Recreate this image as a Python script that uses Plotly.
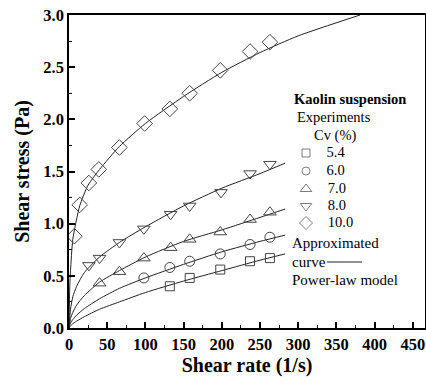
import plotly.graph_objects as go

cv_labels = ["5.4", "6.0", "7.0", "8.0", "10.0"]

x_54 = [132, 158, 198, 237, 263]
y_54 = [0.40, 0.48, 0.56, 0.64, 0.67]

x_60 = [98, 132, 158, 198, 237, 263]
y_60 = [0.48, 0.58, 0.64, 0.71, 0.80, 0.87]

x_70 = [40, 66, 98, 133, 158, 198, 237, 263]
y_70 = [0.43, 0.54, 0.67, 0.77, 0.85, 0.92, 1.04, 1.11]

x_80 = [26, 40, 66, 98, 133, 158, 199, 237, 263]
y_80 = [0.60, 0.67, 0.82, 0.95, 1.09, 1.17, 1.30, 1.48, 1.57]

x_100 = [7, 14, 26, 39, 66, 99, 132, 158, 198, 237, 263]
y_100 = [0.88, 1.18, 1.39, 1.52, 1.73, 1.96, 2.10, 2.25, 2.47, 2.65, 2.74]

# ---- power-law model curves ----
cx = [0, 2, 5, 10, 20, 40, 66, 100, 150, 200, 250, 283]
c_54 = [0, 0.021, 0.041, 0.066, 0.108, 0.18, 0.25, 0.34, 0.45, 0.55, 0.65, 0.71]
c_60 = [0, 0.047, 0.082, 0.123, 0.186, 0.28, 0.38, 0.48, 0.61, 0.73, 0.83, 0.89]
c_70 = [0, 0.09, 0.15, 0.22, 0.31, 0.44, 0.55, 0.68, 0.83, 0.94, 1.06, 1.14]
c_80 = [0, 0.18, 0.30, 0.40, 0.53, 0.68, 0.82, 0.97, 1.17, 1.34, 1.48, 1.58]
cx_100 = [0, 1, 2, 5, 14, 25, 40, 66, 100, 150, 200, 250, 300, 381]
c_100 = [0, 0.40, 0.55, 0.85, 1.17, 1.37, 1.52, 1.74, 1.96, 2.22, 2.45, 2.64, 2.80, 3.0]

x_ticks = [0, 50, 100, 150, 200, 250, 300, 350, 400, 450]
y_ticks = [0.0, 0.5, 1.0, 1.5, 2.0, 2.5, 3.0]

FONT = "Liberation Serif"
AXFONT = "serif"
INK = "#222222"
MK = "#444444"

symbols = ["square-open", "circle-open", "triangle-up-open", "triangle-down-open", "diamond-open"]
sizes = [9, 10, 11, 11, 12]

fig = go.Figure()

for xs, ys in [(cx, c_54), (cx, c_60), (cx, c_70), (cx, c_80), (cx_100, c_100)]:
    fig.add_trace(go.Scatter(x=xs, y=ys, mode="lines",
                             line=dict(color=INK, width=1, shape="spline", smoothing=0.6),
                             showlegend=False, hoverinfo="skip"))

for (xs, ys), sym, sz, lab in zip([(x_54, y_54), (x_60, y_60), (x_70, y_70), (x_80, y_80), (x_100, y_100)],
                                  symbols, sizes, cv_labels):
    fig.add_trace(go.Scatter(x=xs, y=ys, mode="markers", name=lab, showlegend=False,
                             marker=dict(symbol=sym, size=sz, color=MK, line=dict(width=1, color=MK))))

# ---- legend key (drawn on a hidden pixel-like overlay axis) ----
key_x = 306
key_y = [153, 171, 189, 206, 223]
fig.add_trace(go.Scatter(x=[key_x] * len(key_y), y=key_y, mode="markers+text", xaxis="x2", yaxis="y2",
                         text=["    " + l for l in cv_labels], textposition="middle right",
                         textfont=dict(family=FONT, size=14.5, color="black"),
                         marker=dict(symbol=symbols, size=[8, 8, 10, 10, 10], color=MK, line=dict(width=1, color=MK)),
                         showlegend=False, hoverinfo="skip", cliponaxis=False))

axis_common = dict(showline=True, linecolor="black", linewidth=1.5, mirror=True, ticks="inside",
                   tickcolor="black", tickwidth=1.5, ticklen=6, showgrid=False, zeroline=False,
                   tickfont=dict(family=AXFONT, size=16.5, color="black", weight="bold"))

xaxis = dict(range=[0, 466], tickmode="array", tickvals=x_ticks, ticktext=[str(v) for v in x_ticks],
             minor=dict(dtick=25, ticks="inside", ticklen=3, tickcolor="black", tickwidth=1.2),
             title=dict(text="<b>Shear rate (1/s)</b>", font=dict(family=AXFONT, size=20, color="black"), standoff=5),
             **axis_common)
yaxis = dict(range=[0, 3.0], tickmode="array", tickvals=y_ticks, ticktext=[f"{v:.1f}" for v in y_ticks],
             minor=dict(dtick=0.25, ticks="inside", ticklen=3, tickcolor="black", tickwidth=1.2),
             title=dict(text="<b>Shear stress (Pa)</b>", font=dict(family=AXFONT, size=20, color="black"), standoff=8),
             **axis_common)

fig.update_layout(
    template="none",
    width=426, height=382,
    margin=dict(l=69, r=1, t=15, b=54),
    paper_bgcolor="white", plot_bgcolor="white",
    showlegend=False,
    xaxis=xaxis, yaxis=yaxis,
    xaxis2=dict(overlaying="x", range=[69, 425], visible=False, anchor="y2"),
    yaxis2=dict(overlaying="y", range=[328, 15], visible=False, anchor="x2"),
)

ann = [
    ("<b>Kaolin suspension</b>", 292, 99, 14.5),
    ("Experiments", 295, 117, 14.5),
    ("Cv (%)", 312, 135, 14.5),
    ("Approximated", 290, 243, 15),
    ("curve", 290, 262, 15),
    ("Power-law model", 290, 280, 15),
]
for text, px, py, fs in ann:
    fig.add_annotation(text=text, xref="paper", yref="paper",
                       x=(px - 69) / 356, y=(328 - py) / 313, xanchor="left", yanchor="middle",
                       showarrow=False, font=dict(family=FONT, size=fs, color="black"))
fig.add_shape(type="line", xref="paper", yref="paper", x0=(327 - 69) / 356, x1=(362 - 69) / 356,
              y0=(328 - 262) / 313, y1=(328 - 262) / 313, line=dict(color=INK, width=1))

fig.write_html("out.html")
